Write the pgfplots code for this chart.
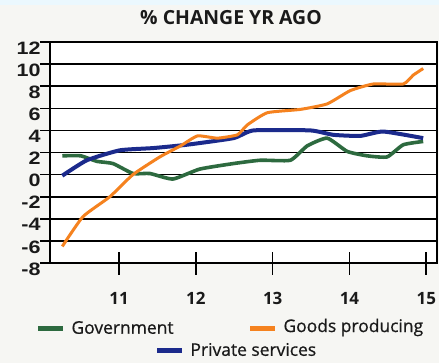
\documentclass[border=0pt]{standalone}
\usepackage{fontspec}
\setmainfont{Open Sans}
\newfontfamily\numfont{Liberation Sans}
\newfontfamily\legfont[FakeBold=0.7]{Open Sans}
\usepackage{pgfplots}
\pgfplotsset{compat=1.18}
\definecolor{cgov}{HTML}{2D6A3F}
\definecolor{cgoods}{HTML}{F5821F}
\definecolor{cpriv}{HTML}{1B2A8C}
\definecolor{cbg}{HTML}{F6F6F3}
\definecolor{ctext}{HTML}{1A1A1A}
\begin{document}
\begin{tikzpicture}[x=1bp,y=1bp]
\useasboundingbox (0,0) rectangle (439,363);
\fill[cbg] (0,0) rectangle (439,363);
\fill[cyan!8] (0,358) rectangle (439,363);
\node[font=\fontsize{19.5}{21}\selectfont\bfseries, text=ctext] at (231,345) {\% CHANGE YR AGO};
\begin{axis}[
  at={(50bp,100bp)}, anchor=south west,
  scale only axis, width=387bp, height=221bp,
  xmin=10.1, xmax=15.14, ymin=-8, ymax=12,
  xtick=\empty, ytick={-8,-6,...,12}, ytick pos=left,
  axis background/.style={fill=white},
  axis line style={line width=1.6bp, black},
  ymajorgrids, grid style={line width=1.6bp, black},
  major tick style={line width=1.6bp, black},
  ytick align=outside, major tick length=10bp,
  /pgf/number format/assume math mode=true,
  yticklabel style={font=\fontsize{18}{18}\selectfont\numfont\bfseries, text=ctext, xscale=1.2, yshift=-6bp, anchor=east, xshift=4bp},
  clip=true,
]
\addplot[cgov, line width=3.6bp, smooth, tension=0.3] coordinates {
(10.26,1.7)(10.5,1.7)(10.71,1.2)(10.92,1.0)(11.18,0.1)(11.4,0.1)(11.7,-0.4)(12.05,0.5)(12.49,1.0)(12.84,1.3)(13.23,1.3)(13.45,2.6)(13.71,3.3)(13.97,2.1)(14.23,1.7)(14.49,1.6)(14.7,2.7)(14.96,3.0)};
\addplot[cpriv, line width=4bp, smooth, tension=0.3] coordinates {
(10.26,-0.1)(10.58,1.3)(11.01,2.2)(11.44,2.4)(11.88,2.7)(12.49,3.3)(12.75,4.0)(13.49,4.0)(13.79,3.6)(14.14,3.5)(14.44,3.9)(14.96,3.3)};
\addplot[cgoods, line width=3bp, smooth, tension=0.3] coordinates {
(10.26,-6.5)(10.53,-3.8)(10.88,-2.0)(11.18,0.0)(11.53,1.6)(11.8,2.6)(12.02,3.5)(12.28,3.3)(12.54,3.6)(12.67,4.5)(12.93,5.6)(13.36,5.9)(13.71,6.4)(14.01,7.6)(14.31,8.2)(14.7,8.2)(14.83,9.0)(14.96,9.6)};
\end{axis}
\begin{axis}[
  at={(50bp,100bp)}, anchor=south west,
  scale only axis, width=387bp, height=221bp,
  xmin=10.1, xmax=15.14, ymin=-8, ymax=12,
  xtick={11,12,13,14,15}, ytick=\empty, xtick pos=bottom,
  axis line style={line width=1.6bp, black},
  major tick style={line width=1.6bp, black},
  xtick align=center, major tick length=23bp,
  /pgf/number format/assume math mode=true,
  xticklabel style={font=\fontsize{17}{17}\selectfont\bfseries, text=ctext, yshift=-14bp},
  xticklabel={\pgfmathprintnumber[int trunc]{\tick}},
]
\end{axis}
\draw[cgov, line width=5bp] (38,35) -- (63,35);
\node[anchor=west, font=\fontsize{17.5}{18}\selectfont\legfont, text=ctext] at (68,35.5) {Government};
\draw[cgoods, line width=5bp] (250,35) -- (275,35);
\node[anchor=west, font=\fontsize{17.5}{18}\selectfont\legfont, text=ctext] at (280,35.5) {Goods producing};
\draw[cpriv, line width=5bp] (157,13) -- (182,13);
\node[anchor=west, font=\fontsize{17.5}{18}\selectfont\legfont, text=ctext] at (187,13.5) {Private services};
\end{tikzpicture}
\end{document}
